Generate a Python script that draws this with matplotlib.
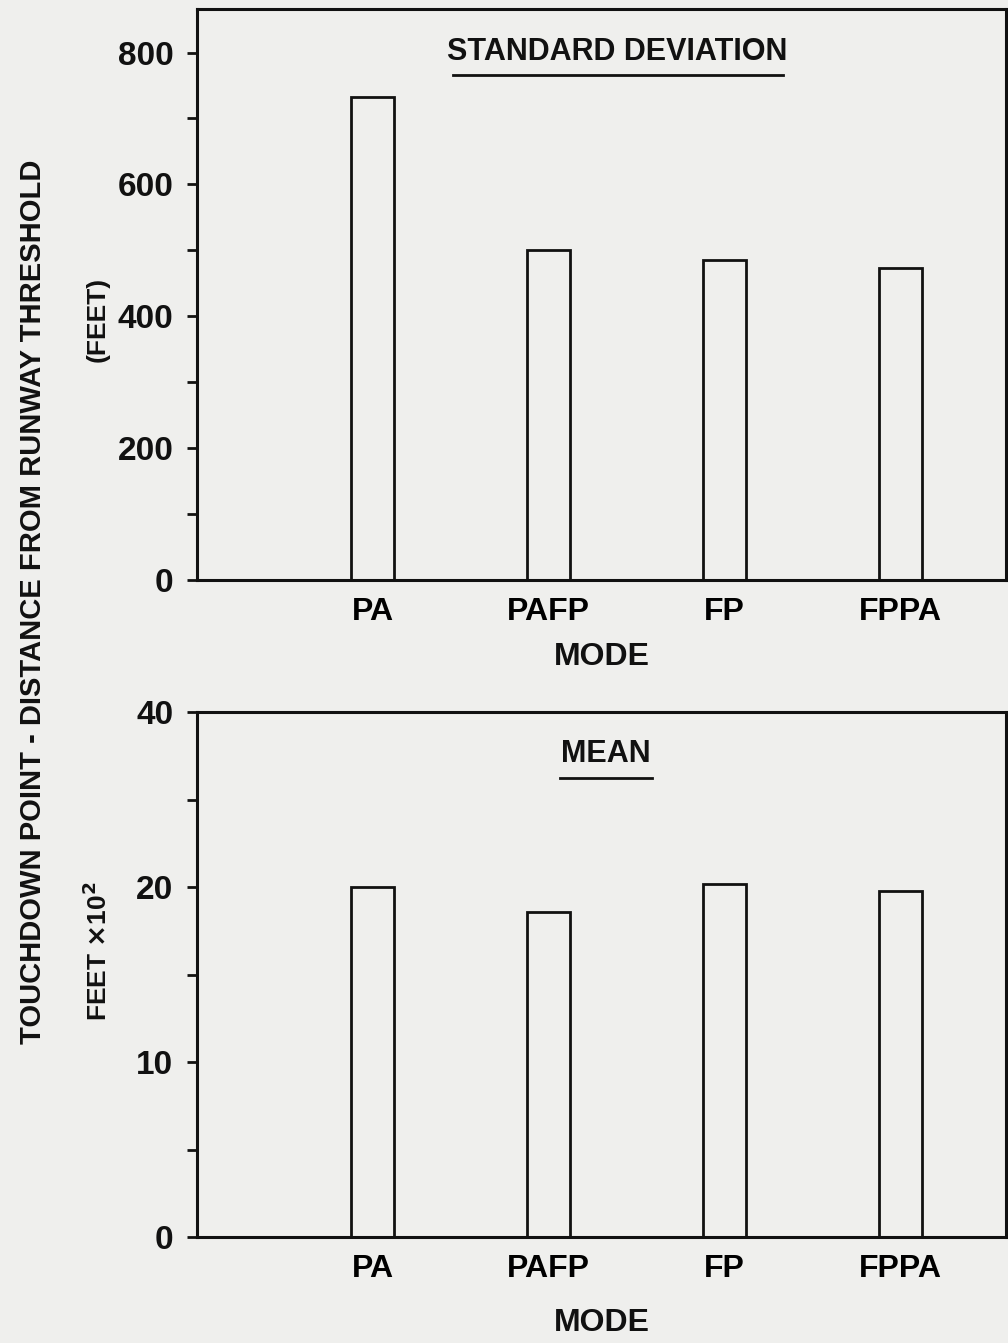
import matplotlib
matplotlib.use("Agg")
import matplotlib.pyplot as plt
from matplotlib import font_manager

modes = ["PA", "PAFP", "FP", "FPPA"]
std_dev = [732, 501, 486, 473]
mean = [20.0, 18.6, 20.2, 19.8]

std_ticks = [0, 200, 400, 600, 800]
std_minor = [100, 300, 500, 700]
mean_ticks = [0, 10, 20, 30]
mean_ticklabels = ["0", "10", "20", "40"]   # the original labels the top tick "40"
mean_minor = [5, 15, 25]

installed = {f.name for f in font_manager.fontManager.ttflist}
fam = [f for f in ["Liberation Sans Narrow", "Liberation Sans", "DejaVu Sans"] if f in installed]
plt.rcParams['font.family'] = fam
plt.rcParams['font.weight'] = 'bold'
plt.rcParams['axes.labelweight'] = 'bold'

BG = "#efefed"
INK = "#111111"

fig = plt.figure(figsize=(10.08, 13.43), dpi=100, facecolor=BG)
ax1 = fig.add_axes([0.1954, 0.5681, 0.8026, 0.4252])
ax2 = fig.add_axes([0.1954, 0.0789, 0.8026, 0.3909])

x = list(range(1, len(modes) + 1))


def style(ax, values, ticks, ticklabels, minor, ylim, title, ul):
    ax.set_facecolor(BG)
    ax.bar(x, values, width=0.245, facecolor=BG, edgecolor=INK, linewidth=2.0)
    ax.set_xlim(0, 4.6)
    ax.set_ylim(*ylim)
    ax.set_xticks(x)
    ax.set_xticklabels(modes, fontsize=23)
    ax.tick_params(axis='x', length=0, pad=12)
    ax.set_yticks(ticks)
    ax.set_yticklabels(ticklabels, fontsize=24)
    ax.set_yticks(minor, minor=True)
    ax.tick_params(axis='y', which='both', direction='out', length=7, width=2, pad=10, colors=INK)
    for s in ax.spines.values():
        s.set_linewidth(2.2)
        s.set_color(INK)
    ax.text((ul[0] + ul[1]) / 2, ul[2], title, transform=ax.transAxes, ha='center', va='bottom',
            fontsize=22, color=INK)
    ax.plot([ul[0], ul[1]], [ul[3], ul[3]], transform=ax.transAxes, color=INK,
            lw=2, clip_on=False)
    ax.set_xlabel("MODE", fontsize=23, color=INK)


style(ax1, std_dev, std_ticks, [str(t) for t in std_ticks], std_minor, (0, 866),
      "STANDARD DEVIATION", (0.316, 0.724, 0.899, 0.884))
style(ax2, mean, mean_ticks, mean_ticklabels, mean_minor, (0, 30),
      "MEAN", (0.449, 0.562, 0.892, 0.874))
ax1.xaxis.set_label_coords(0.5, -0.108)
ax2.xaxis.set_label_coords(0.5, -0.135)

fig.text(0.033, 0.552, "TOUCHDOWN POINT - DISTANCE FROM RUNWAY THRESHOLD", rotation=90,
         ha='center', va='center', fontsize=21, color=INK)
fig.text(0.097, 0.762, "(FEET)", rotation=90, ha='center', va='center', fontsize=19, color=INK)
fig.text(0.097, 0.292, r"FEET $\times$10$^2$", rotation=90, ha='center', va='center',
         fontsize=19, color=INK)

fig.savefig("out.png", dpi=100, facecolor=BG)
